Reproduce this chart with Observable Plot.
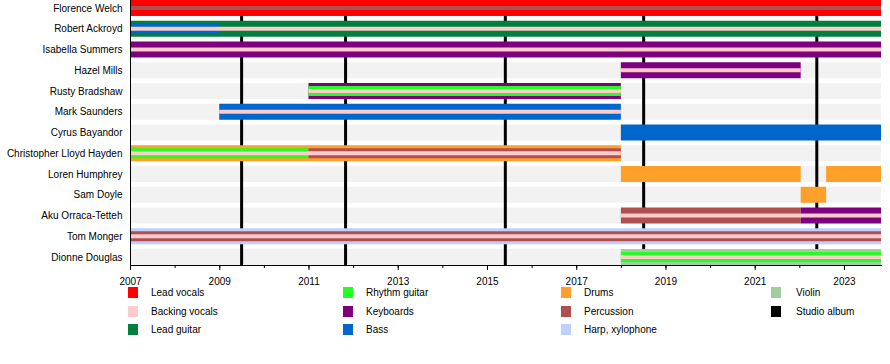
<!DOCTYPE html>
<html>
<head>
<meta charset="utf-8">
<script src="https://cdn.jsdelivr.net/npm/d3@7"></script>
<script src="https://cdn.jsdelivr.net/npm/@observablehq/plot@0.6"></script>
<style>
  html, body { margin: 0; padding: 0; background: #fff; }
  #wrap { position: relative; width: 890px; height: 364px; font-family: "Liberation Sans", Arial, sans-serif; }
  #legend { position: absolute; left: 0; top: 286px; width: 890px; height: 78px; }
  .item { position: absolute; height: 12px; font-size: 10px; line-height: 12px; color: #000; white-space: nowrap; }
  .sw { position: absolute; left: 0; top: 0; width: 10px; height: 11px; }
  .lab { position: absolute; top: 0; }
</style>
</head>
<body>
<div id="wrap">
  <div id="chart"></div>
  <div id="legend"></div>
</div>
<script>
// ---- data ----
const members = [
  "Florence Welch", "Robert Ackroyd", "Isabella Summers", "Hazel Mills",
  "Rusty Bradshaw", "Mark Saunders", "Cyrus Bayandor", "Christopher Lloyd Hayden",
  "Loren Humphrey", "Sam Doyle", "Aku Orraca-Tetteh", "Tom Monger", "Dionne Douglas"
];
const roles = [
  "Lead vocals", "Backing vocals", "Lead guitar", "Rhythm guitar", "Keyboards", "Bass",
  "Drums", "Percussion", "Harp, xylophone", "Violin", "Studio album"
];
const roleColors = [
  "#ff0000", "#ffcccc", "#007f3f", "#22ff22", "#7f007f", "#0066cc",
  "#ffa02a", "#b04f50", "#bfcfff", "#9fcf9f", "#000000"
];
const timelineStart = 2007;
const timelineEnd = 2023.83;
const albumDates = [2009.49, 2011.82, 2015.40, 2018.50, 2022.38];
const yearTicks = [2007, 2009, 2011, 2013, 2015, 2017, 2019, 2021, 2023];
const minorTicks = [2007, 2008, 2009, 2010, 2011, 2012, 2013, 2014, 2015, 2016, 2017, 2018, 2019, 2020, 2021, 2022, 2023];

// [member, role, from, to]
const mainBars = [
  ["Florence Welch", "Lead vocals", 2007, timelineEnd],
  ["Robert Ackroyd", "Lead guitar", 2007, timelineEnd],
  ["Isabella Summers", "Keyboards", 2007, timelineEnd],
  ["Hazel Mills", "Keyboards", 2018, 2022.03],
  ["Rusty Bradshaw", "Keyboards", 2011, 2018],
  ["Mark Saunders", "Bass", 2009, 2018],
  ["Cyrus Bayandor", "Bass", 2018, timelineEnd],
  ["Christopher Lloyd Hayden", "Drums", 2007, 2018],
  ["Loren Humphrey", "Drums", 2018, 2022.03],
  ["Loren Humphrey", "Drums", 2022.6, timelineEnd],
  ["Sam Doyle", "Drums", 2022.03, 2022.6],
  ["Aku Orraca-Tetteh", "Percussion", 2018, 2022.03],
  ["Aku Orraca-Tetteh", "Keyboards", 2022.03, timelineEnd],
  ["Tom Monger", "Harp, xylophone", 2007, timelineEnd],
  ["Dionne Douglas", "Violin", 2018, timelineEnd]
];
const midBars = [
  ["Robert Ackroyd", "Bass", 2007, 2009],
  ["Rusty Bradshaw", "Rhythm guitar", 2011, 2018],
  ["Christopher Lloyd Hayden", "Rhythm guitar", 2007, 2011],
  ["Christopher Lloyd Hayden", "Percussion", 2011, 2018],
  ["Tom Monger", "Percussion", 2007, timelineEnd],
  ["Dionne Douglas", "Rhythm guitar", 2018, timelineEnd]
];
const thinBars = [
  ["Florence Welch", "Percussion", 2007, timelineEnd],
  ["Robert Ackroyd", "Backing vocals", 2007, timelineEnd],
  ["Isabella Summers", "Backing vocals", 2007, timelineEnd],
  ["Hazel Mills", "Backing vocals", 2018, 2022.03],
  ["Rusty Bradshaw", "Backing vocals", 2011, 2018],
  ["Mark Saunders", "Backing vocals", 2009, 2018],
  ["Christopher Lloyd Hayden", "Backing vocals", 2007, 2018],
  ["Aku Orraca-Tetteh", "Backing vocals", 2018, timelineEnd],
  ["Tom Monger", "Backing vocals", 2007, timelineEnd],
  ["Dionne Douglas", "Backing vocals", 2018, timelineEnd]
];

// ---- build ----
const toRows = arr => arr.map(([member, role, from, to]) => ({member, role, from, to}));
const colorOf = new Map(roles.map((r, i) => [r, roleColors[i]]));
const bg = members.map(m => ({member: m, from: timelineStart, to: timelineEnd}));

const chart = Plot.plot({
  width: 890,
  height: 286,
  marginLeft: 130,
  marginRight: 9,
  marginTop: 0,
  marginBottom: 21,
  style: {fontFamily: '"Liberation Sans", Arial, sans-serif', fontSize: "10px", color: "#000", background: "#fff"},
  x: {domain: [timelineStart, timelineEnd], axis: null},
  y: {domain: members, paddingInner: 0.23, paddingOuter: 0, round: false, axis: null, label: null},
  marks: [
    Plot.barX(bg, {y: "member", x1: "from", x2: "to", fill: "#f2f2f2"}),
    Plot.ruleX(albumDates, {stroke: "#000", strokeWidth: 3}),
    Plot.barX(toRows(mainBars), {y: "member", x1: "from", x2: "to", fill: d => colorOf.get(d.role)}),
    Plot.barX(toRows(midBars), {y: "member", x1: "from", x2: "to", fill: d => colorOf.get(d.role), insetTop: 3, insetBottom: 3}),
    Plot.barX(toRows(thinBars), {y: "member", x1: "from", x2: "to", fill: d => colorOf.get(d.role), insetTop: 6, insetBottom: 6}),
    Plot.frame({anchor: "left", stroke: "#000"}),
    Plot.frame({anchor: "bottom", stroke: "#000"}),
    Plot.axisX({ticks: minorTicks, tickSize: 3, tickFormat: () => "", label: null}),
    Plot.axisX({ticks: yearTicks, tickSize: 5, tickPadding: 7, tickFormat: d3.format("d"), fontSize: 10, label: null}),
    Plot.axisY({tickSize: 0, tickPadding: 8, fontSize: 10, label: null})
  ]
});
document.getElementById("chart").appendChild(chart);

// ---- legend ----
const legendCols = [128, 343, 561, 771];
const legendRowTops = [1, 19.5, 38];
const legendLayout = [[0,0],[0,1],[0,2],[1,0],[1,1],[1,2],[2,0],[2,1],[2,2],[3,0],[3,1]];
const legend = document.getElementById("legend");
roles.forEach((r, i) => {
  const [c, row] = legendLayout[i];
  const it = document.createElement("div");
  it.className = "item";
  it.style.left = legendCols[c] + "px";
  it.style.top = legendRowTops[row] + "px";
  const sw = document.createElement("div");
  sw.className = "sw";
  sw.style.background = roleColors[i];
  const lab = document.createElement("span");
  lab.className = "lab";
  lab.style.left = (c === 3 ? 25 : 23) + "px";
  lab.textContent = r;
  it.appendChild(sw);
  it.appendChild(lab);
  legend.appendChild(it);
});
</script>
</body>
</html>
